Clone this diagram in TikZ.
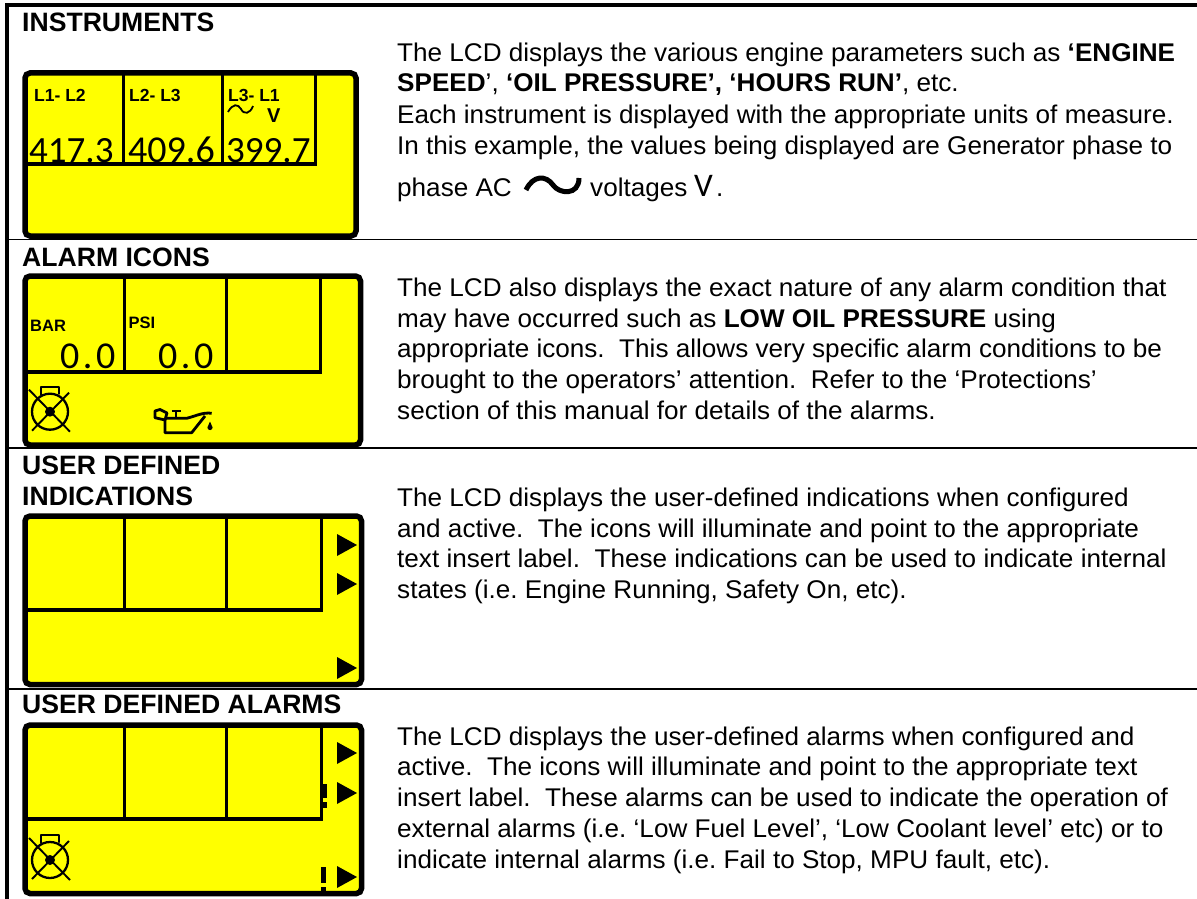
\documentclass[tikz,border=0pt]{standalone}
\usepackage{fontspec}
\setmainfont{Liberation Sans}
\newfontfamily\lcdfont{Carlito}
\newfontfamily\bodyfont[FakeStretch=1.02]{Liberation Sans}
\definecolor{lcdyellow}{RGB}{255,255,0}
\frenchspacing
\tikzset{
  body/.style={anchor=base west,inner sep=0pt,font=\fontsize{25.6}{28}\selectfont\bodyfont},
  head/.style={anchor=base west,inner sep=0pt,font=\fontsize{26.6}{30}\selectfont\bfseries},
  tiny/.style={anchor=base west,inner sep=0pt,font=\fontsize{17.5}{18}\selectfont\bfseries},
  tinier/.style={anchor=base west,inner sep=0pt,font=\fontsize{16.5}{18}\selectfont\bfseries},
  digit/.style={anchor=base west,inner sep=0pt,font=\fontsize{38}{38}\selectfont\lcdfont},
  digitsmall/.style={anchor=base west,inner sep=0pt,font=\fontsize{37}{38}\selectfont\lcdfont},
  rule/.style={line width=1.4pt},
  edge/.style={line width=4.2pt},
  frame/.style={line width=5.5pt,rounded corners=5pt,fill=lcdyellow},
  cell/.style={line width=3pt},
  cellh/.style={line width=4.2pt},
  tri/.style={fill=black,draw=none},
  icon/.style={line width=2.3pt,line cap=round}
}
\newcommand{\lcdpanel}[8]{%
  \draw[frame] (#1,#3) rectangle (#2,#4);
  \draw[cell] (#5,#3) -- (#5,#8);
  \draw[cell] (#6,#3) -- (#6,#8);
  \draw[cell] (#7,#3) -- (#7,#8);
  \draw[cellh] (#1,#8) -- (#7+1.5,#8);
}
\newcommand{\trimark}[2]{\fill[tri] (#1,#2-11) -- (#1+20,#2) -- (#1,#2+11) -- cycle;}
\newcommand{\enginemark}[2]{%
  \begin{scope}[shift={(#1,#2)}]
    \draw[icon] (0,0) circle (18);
    \fill (0,0) circle (5);
    \draw[line width=1.9pt] (-21,-22) -- (20,20) (19,-19) -- (-18,19);
    \draw[icon,line join=round] (-9,-17) -- (-9,-25) -- (9,-25) -- (9,-18);
  \end{scope}}
\newcommand{\bangmark}[2]{\fill (#1-2.5,#2) rectangle (#1+2.5,#2+16); \fill (#1-2.5,#2+20) rectangle (#1+2.5,#2+24);}
\begin{document}
\begin{tikzpicture}[x=1pt,y=-1pt]
\useasboundingbox (0,0) rectangle (1197,899);
\fill[white] (0,0) rectangle (1197,899);
% table lines
\coordinate (tl) at (7,5); \coordinate (tr) at (1197,5); \coordinate (bl) at (7,899);
\draw[edge] (bl) -- (tl) -- (tr);
\draw[rule] (8,239.5) -- (1197,239.5);
\draw[rule] (8,448) -- (1197,448);
\draw[rule] (8,689) -- (1197,689);
% panel 1
\lcdpanel{25}{356}{73}{236}{123.5}{222.5}{315}{164}
\node[tiny] (a1) at (34,102) {L1- L2};
\node[tiny] (a2) at (129,102) {L2- L3};
\node[tiny] (a3) at (228,102) {L3- L1};
\node[anchor=base west,inner sep=0pt,font=\fontsize{20}{20}\selectfont\bfseries] (a4) at (267,122) {V};
\draw[line width=1.8pt] (228,112) .. controls (233,103) and (238,104) .. (241,109) .. controls (244,115) and (250,114) .. (253,106);
\begin{scope}
\clip (25,120) rectangle (315,162);
\node[digitsmall] (d1) at (29,162.5) {417.3};
\node[digit] (d2) at (128,162.5) {409.6};
\node[digitsmall] (d3) at (226,162.5) {399.7};
\end{scope}
% panel 2
\lcdpanel{25}{360.5}{276}{445}{124}{226}{320}{372}
\fill (357.5,363) rectangle (363,382);
\node[tinier] (b1) at (30,331) {BAR};
\node[tinier] (b2) at (128.5,328) {PSI};
\node[digit] (b3) at (60,368) {0\hspace{3.5pt}.\hspace{3.5pt}0};
\node[digit] (b4) at (158,368) {0\hspace{3.5pt}.\hspace{3.5pt}0};
\enginemark{50}{411.7}
% oil can
\draw[line width=2.8pt,line join=round] (165,418.3) -- (186.7,418.3) .. controls (196,416) and (203,412) .. (211.7,413.3) (205,416) -- (191.7,432.7) -- (165,432.7) -- (165,418.3);
\draw[line width=2.8pt,line join=round] (155,411) -- (160,409.5) -- (167,413) -- (165,420) -- (155,417.7) -- cycle;
\draw[line width=2.8pt] (176,412) -- (176,418.3) (171.5,411) -- (180.5,411);
\fill (210,421.5) -- (212.6,427.5) arc (0:180:2.6) -- cycle;
% panel 3
\lcdpanel{25}{361.5}{516}{684.5}{124}{226.5}{321}{610}
\trimark{337}{545}
\trimark{337}{584}
\trimark{337}{668}
% panel 4
\lcdpanel{25}{361.5}{725}{893.5}{124}{226.5}{321}{819}
\trimark{337}{753}
\trimark{337}{793}
\trimark{337}{877}
\enginemark{50}{860}
\fill (323,784) rectangle (326.5,798); \fill (323,802) rectangle (326.5,808);
\bangmark{323.5}{867}
% headings
\node[head] (h1) at (22,32) {INSTRUMENTS};
\node[head] (h2) at (22,266) {ALARM ICONS};
\node[head] (h3) at (22,474) {USER DEFINED};
\node[head] (h4) at (22,505) {INDICATIONS};
\node[head] (h5) at (22,713) {USER DEFINED ALARMS};
% texts
\node[body] (t1) at (397,62) {The LCD displays the various engine parameters such as \textbf{‘ENGINE}};
\node[body] (t2) at (397,92) {\textbf{SPEED}’, \textbf{‘OIL PRESSURE’, ‘HOURS RUN’}, etc.};
\node[body] (t3) at (397,123) {Each instrument is displayed with the appropriate units of measure.};
\node[body] (t4) at (397,154) {In this example, the values being displayed are Generator phase to};
\node[body] (t5) at (397,196) {phase AC};
\draw[line width=5pt] (526,190) .. controls (533,175) and (546,175) .. (553,185) .. controls (559,194) and (579,196) .. (579,178);
\node[body] (t6) at (590,196) {voltages};
\node[anchor=base west,inner sep=0pt,font=\fontsize{33}{33}\selectfont\lcdfont] (t7) at (694,196) {V};
\node[body] (t8) at (716,196) {.};
\node[body] (s1) at (397,296.5) {The LCD also displays the exact nature of any alarm condition that};
\node[body] (s2) at (397,327) {may have occurred such as \textbf{LOW OIL PRESSURE} using};
\node[body] (s3) at (397,357.5) {appropriate icons.\ \ This allows very specific alarm conditions to be};
\node[body] (s4) at (397,388) {brought to the operators’ attention.\ \ Refer to the ‘Protections’};
\node[body] (s5) at (397,419) {section of this manual for details of the alarms.};
\node[body] (u1) at (397,506) {The LCD displays the user-defined indications when configured};
\node[body] (u2) at (397,537) {and active.\ \ The icons will illuminate and point to the appropriate};
\node[body] (u3) at (397,567) {text insert label.\ \ These indications can be used to indicate internal};
\node[body] (u4) at (397,598) {states (i.e. Engine Running, Safety On, etc).};
\node[body] (v1) at (397,745) {The LCD displays the user-defined alarms when configured and};
\node[body] (v2) at (397,775) {active.\ \ The icons will illuminate and point to the appropriate text};
\node[body] (v3) at (397,806) {insert label.\ \ These alarms can be used to indicate the operation of};
\node[body] (v4) at (397,837) {external alarms (i.e. ‘Low Fuel Level’, ‘Low Coolant level’ etc) or to};
\node[body] (v5) at (397,868) {indicate internal alarms (i.e. Fail to Stop, MPU fault, etc).};
\end{tikzpicture}
\end{document}
